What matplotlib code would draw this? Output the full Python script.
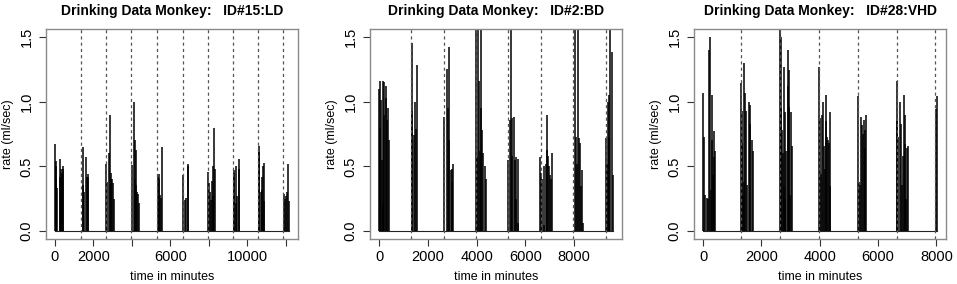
import matplotlib.pyplot as plt
import numpy as np

plt.rcParams['font.family'] = ['Liberation Sans', 'DejaVu Sans']

titles = ["Drinking Data Monkey:   ID#15:LD",
          "Drinking Data Monkey:   ID#2:BD",
          "Drinking Data Monkey:   ID#28:VHD"]

# monkey 15 (LD)
t15 = [20, 40, 50, 80, 130, 250, 270, 290, 320, 360, 380, 400, 430,
       1438, 1473, 1500, 1640, 1660, 1700, 1720,
       2660, 2700, 2820, 2860, 2900, 2930, 2990, 3030, 3090,
       4020, 4107, 4142, 4177, 4211, 4228, 4280, 4332, 4384,
       5340, 5390, 5420, 5460, 5520, 5580,
       6660, 6780, 6830, 6900, 6920,
       7970, 8000, 8080, 8100, 8150, 8200, 8220, 8300, 8320,
       9300, 9320, 9400, 9430, 9460, 9560, 9580,
       10600, 10630, 10700, 10760, 10790, 10820, 10860, 10900,
       11900, 11990, 12020, 12050, 12100, 12160]
r15 = [0.67, 0.40, 0.54, 0.50, 0.33, 0.56, 0.42, 0.48, 0.40, 0.45, 0.44, 0.50, 0.48,
       0.36, 0.65, 0.30, 0.57, 0.42, 0.44, 0.42,
       0.52, 0.38, 0.60, 0.90, 0.40, 0.45, 0.40, 0.37, 0.25,
       0.51, 1.00, 0.70, 0.40, 0.36, 0.63, 0.30, 0.29, 0.22,
       0.42, 0.44, 0.40, 0.28, 0.26, 0.65,
       0.43, 0.24, 0.26, 0.52, 0.50,
       0.46, 0.37, 0.30, 0.24, 0.39, 0.27, 0.50, 0.80, 0.48,
       0.47, 0.45, 0.22, 0.50, 0.27, 0.56, 0.48,
       0.61, 0.66, 0.30, 0.42, 0.32, 0.50, 0.53, 0.23,
       0.29, 0.25, 0.27, 0.30, 0.52, 0.23]
sess15 = [1340, 2650, 3980, 5310, 6640, 7960, 9270, 10590, 11890]

# monkey 2 (BD)
t2 = [0, 14, 41, 55, 109, 137, 164, 178, 205, 260, 287, 314, 369, 410,
      1325, 1352, 1407, 1475, 1503, 1557,
      2650, 2787, 2814, 2855, 2869, 2937, 2978, 3005, 3046,
      3975, 4030, 4071, 4084, 4125, 4166, 4180, 4235, 4276, 4330, 4371,
      5300, 5368, 5423, 5436, 5450, 5532, 5573, 5600, 5628, 5696, 5710,
      6612, 6653, 6694, 6748, 6762, 6830, 6871, 6898, 6939, 6967, 7008, 7062, 7103,
      8046, 8100, 8128, 8182, 8210, 8251, 8305, 8333, 8360,
      9330, 9370, 9398, 9425, 9453, 9494, 9562, 9589]
r2 = [1.10, 0.80, 1.16, 1.01, 0.55, 0.22, 1.16, 1.15, 0.90, 1.03, 1.12, 0.86, 0.95, 0.70,
      1.45, 0.93, 0.74, 1.00, 0.79, 1.28,
      0.88, 1.25, 0.95, 1.42, 0.70, 0.47, 0.48, 0.38, 0.52,
      1.60, 0.57, 1.60, 1.16, 0.62, 0.95, 1.60, 0.78, 0.60, 0.50, 0.40,
      0.55, 0.86, 1.60, 0.87, 0.58, 0.88, 0.55, 0.57, 0.25, 0.56, 0.06,
      0.57, 0.45, 0.40, 0.05, 0.50, 0.52, 0.63, 0.90, 0.58, 0.50, 0.43, 0.40, 0.60,
      1.60, 0.73, 0.52, 1.60, 0.72, 0.68, 0.35, 0.47, 0.06,
      0.72, 0.52, 1.00, 0.73, 1.05, 1.60, 1.38, 0.43]
sess2 = [1300, 2640, 3970, 5290, 6630, 7960, 9300]

# monkey 28 (VHD)
t28 = [11, 34, 57, 149, 183, 206, 240, 263, 297, 320, 343, 366, 389, 400,
       1314, 1326, 1349, 1372, 1394, 1417, 1440, 1474, 1520, 1577, 1600, 1623, 1669, 1703,
       2652, 2663, 2686, 2709, 2732, 2766, 2789, 2800, 2823, 2835, 2903, 2915, 2938, 2960,
       2995, 3029, 3052,
       3978, 4000, 4035, 4092, 4115, 4149, 4172, 4206, 4229, 4252, 4298, 4332, 4343, 4366,
       5326, 5360, 5383, 5429, 5452, 5486, 5521, 5544, 5567, 5601,
       6652, 6664, 6698, 6767, 6790, 6835, 6870, 6881, 6915, 6938, 6961, 6995, 7030,
       7990, 8012]
r28 = [1.07, 0.73, 0.28, 0.26, 0.25, 1.40, 1.50, 0.32, 1.05, 0.70, 0.43, 0.77, 0.57, 0.62,
       1.14, 0.68, 0.93, 0.28, 0.38, 1.30, 1.07, 0.93, 0.36, 1.00, 0.83, 0.97, 0.70, 0.62,
       1.60, 1.50, 0.95, 0.78, 0.60, 0.35, 1.27, 0.92, 0.25, 0.62, 1.12, 1.40, 0.96, 1.24,
       0.28, 0.92, 0.66,
       1.27, 0.87, 0.44, 0.90, 1.00, 0.66, 0.48, 0.85, 1.05, 0.73, 0.70, 0.68, 0.92, 0.35,
       1.04, 0.38, 0.36, 0.88, 0.82, 0.75, 0.86, 0.64, 0.78, 0.90,
       1.16, 0.85, 0.73, 1.00, 0.83, 0.36, 0.58, 1.05, 0.67, 0.90, 0.25, 0.64, 0.66,
       0.94, 1.04]
sess28 = [1314, 2652, 3978, 5304, 6641, 7967]

xticks_all = [[0, 2000, 4000, 6000, 8000, 10000, 12000],
              [0, 2000, 4000, 6000, 8000],
              [0, 2000, 4000, 6000, 8000]]
xlabels_all = [["0", "2000", "", "6000", "", "10000", ""],
               ["0", "2000", "4000", "6000", "8000"],
               ["0", "2000", "4000", "6000", "8000"]]
yticks = [0, 0.5, 1.0, 1.5]
ylabels = ["0.0", "0.5", "1.0", "1.5"]

series = [(t15, r15, sess15), (t2, r2, sess2), (t28, r28, sess28)]

fig = plt.figure(figsize=(9.57, 2.84), dpi=100)
lefts = [46, 370, 694]

for i, (t, r, sess) in enumerate(series):
    ax = fig.add_axes([lefts[i] / 957, 45 / 284, 252 / 957, 210 / 284])
    t = np.array(t)
    r = np.array(r)
    # R style 4% padding
    span = t.max() - t.min()
    ax.set_xlim(t.min() - 0.04 * span, t.max() + 0.04 * span)
    ax.set_ylim(-0.06, 1.56)
    ax.plot([t.min(), t.max()], [0, 0], color='#222222', lw=0.8)
    ax.vlines(t, 0, r, color='black', lw=1.1)
    for s in sess:
        ax.axvline(s, color='#555555', lw=0.9, ls=(0, (2.5, 2.5)))
    for sp in ax.spines.values():
        sp.set_color('#8a8a8a')
        sp.set_linewidth(1.0)
    ax.set_xticks(xticks_all[i])
    ax.set_xticklabels(xlabels_all[i], fontsize=10.5)
    ax.set_yticks(yticks)
    ax.set_yticklabels(ylabels, fontsize=10.5, rotation=90, va='center')
    ax.tick_params(axis='x', length=5, width=0.8, color='#333333', pad=3)
    ax.tick_params(axis='y', length=5, width=0.8, color='#333333', pad=4)
    ax.set_xlabel("time in minutes", fontsize=9, labelpad=5)
    ax.set_ylabel("rate (ml/sec)", fontsize=9)
    ax.yaxis.set_label_coords(-0.125, 0.5)
    ax.set_title(titles[i], fontsize=10, fontweight='bold', pad=10)

fig.savefig("out.png", dpi=100)
